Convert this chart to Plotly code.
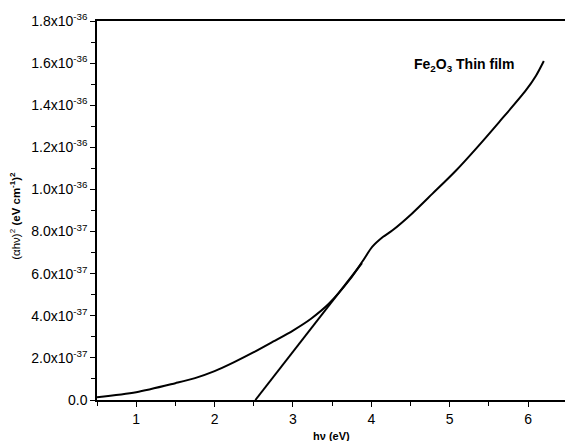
import plotly.graph_objects as go

# Data
hv = [0.5, 1.0, 1.5, 1.75, 2.0, 2.25, 2.5, 2.75, 3.0, 3.23, 3.46, 3.72, 3.89, 4.01, 4.15, 4.27,
      4.52, 4.78, 5.08, 5.35, 5.63, 5.97, 6.1, 6.2]
ahv2 = [1.3e-38, 3.7e-38, 8.0e-38, 1.04e-37, 1.37e-37, 1.8e-37, 2.27e-37, 2.78e-37, 3.3e-37,
        3.86e-37, 4.58e-37, 5.7e-37, 6.6e-37, 7.27e-37, 7.75e-37, 8.06e-37, 8.86e-37, 9.8e-37,
        1.09e-36, 1.2e-36, 1.32e-36, 1.47e-36, 1.54e-36, 1.61e-36]

tangent_x = [2.52, 3.88]
tangent_y = [0.0, 6.5e-37]

ytick_vals = [0, 2e-37, 4e-37, 6e-37, 8e-37, 1e-36, 1.2e-36, 1.4e-36, 1.6e-36, 1.8e-36]
ytick_text = ["0.0", "2.0x10<sup>-37</sup>", "4.0x10<sup>-37</sup>", "6.0x10<sup>-37</sup>",
              "8.0x10<sup>-37</sup>", "1.0x10<sup>-36</sup>", "1.2x10<sup>-36</sup>",
              "1.4x10<sup>-36</sup>", "1.6x10<sup>-36</sup>", "1.8x10<sup>-36</sup>"]
xtick_vals = [1, 2, 3, 4, 5, 6]

fig = go.Figure()
fig.add_trace(go.Scatter(x=hv, y=ahv2, mode="lines",
                         line=dict(color="black", width=2, shape="spline", smoothing=0.8),
                         showlegend=False))
fig.add_trace(go.Scatter(x=tangent_x, y=tangent_y, mode="lines", line=dict(color="black", width=2),
                         showlegend=False))

font = "Liberation Sans, Arial, sans-serif"
fig.update_layout(
    width=565, height=441,
    margin=dict(l=97, r=0, t=21, b=41),
    paper_bgcolor="white", plot_bgcolor="white",
    font=dict(family=font, color="black", size=14),
    xaxis=dict(range=[0.5, 6.47], tickvals=xtick_vals, ticks="outside", ticklen=5, tickwidth=1,
               tickcolor="black", showline=True, linecolor="black", linewidth=1.5, mirror=True,
               showgrid=False, zeroline=False, tickfont=dict(size=14),
               minor=dict(dtick=0.5, tick0=0.5, ticks="outside", ticklen=4, tickcolor="black")),
    yaxis=dict(range=[0, 1.8e-36], tickvals=ytick_vals, ticktext=ytick_text, ticks="outside", ticklen=5,
               tickwidth=1, tickcolor="black", showline=True, linecolor="black", linewidth=1.5,
               showgrid=False, zeroline=False, tickfont=dict(size=14),
               minor=dict(dtick=1e-37, tick0=0, ticks="outside", ticklen=4, tickcolor="black")),
    annotations=[
        dict(text="<b>Fe<sub>2</sub>O<sub>3</sub> Thin film</b>", x=5.18, y=1.59e-36, xref="x", yref="y",
             xanchor="center", yanchor="middle", showarrow=False, font=dict(size=14)),
        dict(text="<b>hν (eV)</b>", x=0.5, xref="paper", y=-0.095, yref="paper",
             xanchor="center", yanchor="middle", showarrow=False, font=dict(size=11)),
        dict(text="(αhν)<sup>2</sup> <b>(eV cm<sup>-1</sup>)<sup>2</sup></b>", x=-0.174, xref="paper",
             y=0.485, yref="paper", xanchor="center", yanchor="middle", textangle=-90,
             showarrow=False, font=dict(size=11.5)),
    ],
)

fig.write_html("out.html", config={"displayModeBar": False},
               post_script="document.body.style.margin='0';document.body.style.padding='0';")
